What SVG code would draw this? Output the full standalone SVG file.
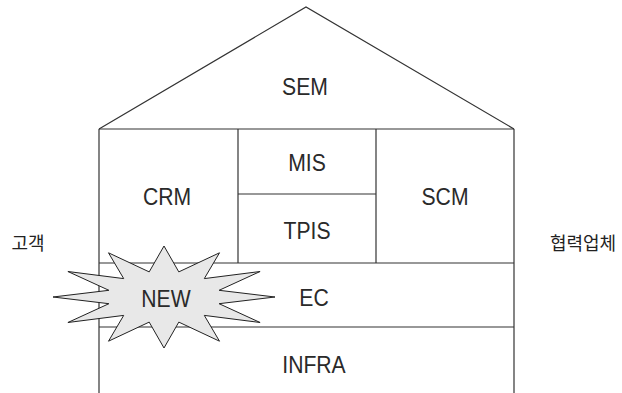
<svg xmlns="http://www.w3.org/2000/svg" width="622" height="393" viewBox="0 0 622 393">
<style>
.ln{stroke:#333;stroke-width:1.2;fill:none}
.t{font-family:"Liberation Sans",Arial,sans-serif;font-size:23.5px;fill:#2a2a2a;text-anchor:middle}
.k{font-family:"Noto Sans CJK KR",sans-serif;font-size:18px;fill:#222;text-anchor:middle}
</style>
<rect width="622" height="393" fill="#fff"/>
<g id="connectors">
<polyline class="ln" points="99,129 306,7 514,129"/>
<line class="ln" x1="99" y1="129" x2="514" y2="129"/>
<line class="ln" x1="99" y1="129" x2="99" y2="393"/>
<line class="ln" x1="514" y1="129" x2="514" y2="393"/>
<line class="ln" x1="238" y1="129" x2="238" y2="263"/>
<line class="ln" x1="376" y1="129" x2="376" y2="263"/>
<line class="ln" x1="238" y1="194" x2="376" y2="194"/>
<line class="ln" x1="99" y1="263" x2="514" y2="263"/>
<line class="ln" x1="99" y1="327" x2="514" y2="327"/>
</g>
<g id="sem"><text class="t" transform="translate(305,95) scale(0.9,1)">SEM</text></g>
<g id="crm"><text class="t" transform="translate(167,205) scale(0.9,1)">CRM</text></g>
<g id="mis"><text class="t" transform="translate(307,171) scale(0.9,1)">MIS</text></g>
<g id="tpis"><text class="t" transform="translate(307,239) scale(0.9,1)">TPIS</text></g>
<g id="scm"><text class="t" transform="translate(445,205) scale(0.9,1)">SCM</text></g>
<g id="ec"><text class="t" transform="translate(314,306) scale(0.9,1)">EC</text></g>
<g id="infra"><text class="t" transform="translate(314,373) scale(0.9,1)">INFRA</text></g>
<g id="customer"><text class="k" x="28" y="250">고객</text></g>
<g id="partner"><text class="k" x="583" y="250">협력업체</text></g>
<g id="new">
<polygon fill="#e8e8e8" stroke="#222" stroke-width="1" points="275,297 219.1,290.3 260.1,271.5 204.3,278.6 219.5,252.8 178.8,271.9 164,246 149.2,271.9 108.5,252.8 123.7,278.6 67.9,271.5 108.9,290.3 53,297 108.9,303.7 67.9,322.5 123.7,315.4 108.5,341.2 149.2,322.1 164,348 178.8,322.1 219.5,341.2 204.3,315.4 260.1,322.5 219.1,303.7"/>
<text class="t" transform="translate(166,307) scale(0.9,1)">NEW</text>
</g>
</svg>
